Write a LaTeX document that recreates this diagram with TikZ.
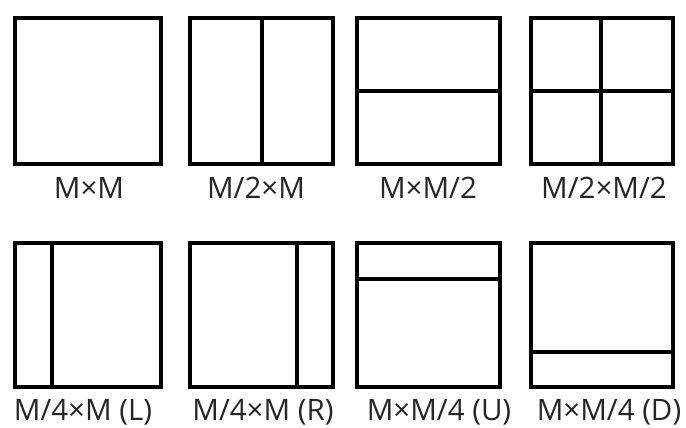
\documentclass[tikz,border=0pt]{standalone}
\usepackage{fontspec}
\setmainfont{Open Sans}
\usepackage{tikz}

\tikzset{
  blk/.style={line width=3.5pt,line join=miter},
  cut/.style={line width=3.5pt},
  lbl/.style={anchor=base,inner sep=0pt,font=\fontsize{29.5}{31}\selectfont,text=black!85}
}

\begin{document}
\begin{tikzpicture}[x=1pt,y=-1pt]
  \useasboundingbox (0,0) rectangle (686,428);
  % top row
  \draw[blk] (15,18) rectangle (161,164);
  \draw[blk] (190,18) rectangle (333,164);
  \draw[cut] (262,18) -- (262,164);
  \draw[blk] (357,18) rectangle (500,164);
  \draw[cut] (357,91) -- (500,91);
  \draw[blk] (531,18) rectangle (673,164);
  \draw[cut] (601,18) -- (601,164);
  \draw[cut] (531,91) -- (673,91);
  \node[lbl] (mm) at (89,198) {M×M};
  \node[lbl] (hm) at (256,198) {M/2×M};
  \node[lbl] (mh) at (428,198) {M×M/2};
  \node[lbl] (hh) at (604,198) {M/2×M/2};
  % bottom row
  \draw[blk] (15,243) rectangle (161,387);
  \draw[cut] (52,243) -- (52,387);
  \draw[blk] (190,243) rectangle (333,387);
  \draw[cut] (297,243) -- (297,387);
  \draw[blk] (357,243) rectangle (500,387);
  \draw[cut] (357,279) -- (500,279);
  \draw[blk] (531,243) rectangle (673,387);
  \draw[cut] (531,352) -- (673,352);
  \node[lbl] (ql) at (83,420) {M/4×M (L)};
  \node[lbl] (qr) at (263,420) {M/4×M (R)};
  \node[lbl] (qu) at (439,420) {M×M/4 (U)};
  \node[lbl] (qd) at (609,420) {M×M/4 (D)};
\end{tikzpicture}
\end{document}
